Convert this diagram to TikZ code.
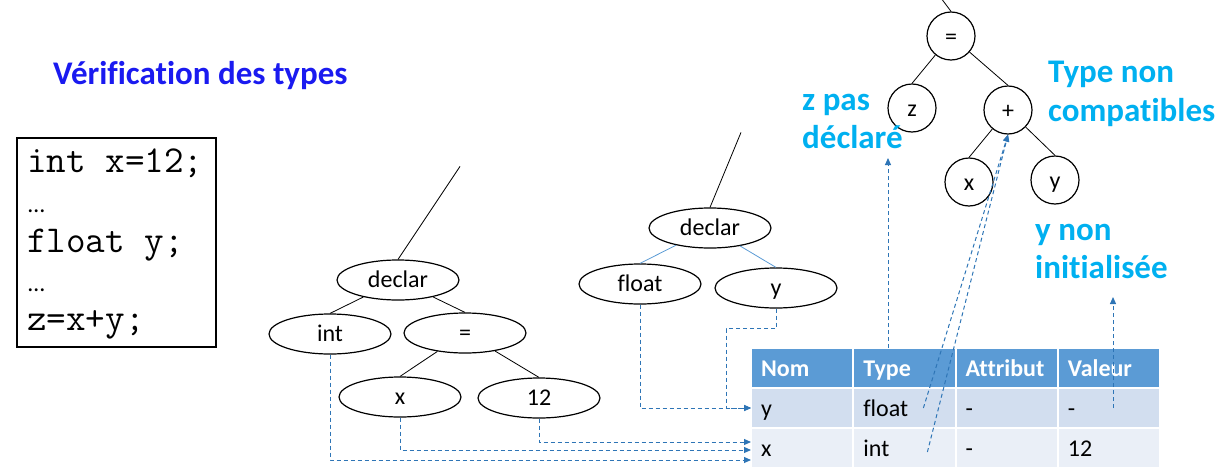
\documentclass[tikz,border=0pt]{standalone}
\usepackage{fontspec}
\setmainfont[Ligatures=NoCommon]{Carlito}
\usetikzlibrary{arrows.meta,shapes.geometric}

\definecolor{titleblue}{RGB}{26,26,240}
\definecolor{noteblue}{RGB}{0,176,240}
\definecolor{linkblue}{RGB}{46,117,182}
\definecolor{headblue}{RGB}{91,155,213}
\definecolor{rowone}{RGB}{210,222,239}
\definecolor{rowtwo}{RGB}{234,239,247}

\tikzset{
  ell/.style={draw, ellipse, line width=1.2pt, minimum width=122pt, minimum height=40pt, inner sep=0pt, text height=15pt, text depth=0pt, font=\fontsize{24}{28}\selectfont},
  circ/.style={draw, circle, line width=1.2pt, minimum size=48pt, inner sep=0pt, text height=17pt, text depth=0pt, font=\fontsize{24}{28}\selectfont},
  note/.style={text=noteblue, inner sep=0pt, anchor=base west, font=\fontsize{33}{38}\selectfont\bfseries},
  code/.style={inner sep=0pt, anchor=base west, font=\ttfamily\fontsize{38}{40}\selectfont},
  dots/.style={inner sep=0pt, anchor=base west, font=\fontsize{24}{28}\selectfont},
  link/.style={draw=linkblue, line width=1pt, dash pattern=on 4pt off 3pt, -{Triangle[length=7pt,width=6pt]}},
  cell/.style={anchor=north west, outer sep=0pt, minimum width=102.25pt, minimum height=40pt, text width=82pt, inner xsep=10pt, text height=17pt, text depth=1pt, draw=white, line width=2pt, font=\fontsize{24}{28}\selectfont},
  hcell/.style={cell, fill=headblue, text=white, font=\fontsize{24}{28}\selectfont\bfseries}
}

\begin{document}
\begin{tikzpicture}[x=1pt,y=-1pt]
  \useasboundingbox (0,0) rectangle (1223,471);

  % titre
  \node[anchor=base west, inner sep=0pt, text=titleblue, font=\fontsize{33}{38}\selectfont\bfseries] (title) at (53,84) {Vérification des types};

  % code source
  \node[draw, line width=1.2pt, minimum width=199pt, minimum height=209pt, inner sep=0pt] (codebox) at (116.5,242.5) {};
  \node[code] (l1) at (27,172) {int x=12;};
  \node[dots] (l2) at (28,212) {…};
  \node[code] (l3) at (27,252) {float y;};
  \node[dots] (l4) at (28,291) {…};
  \node[code] (l5) at (27,330) {z=x+y;};

  % arbre int x=12
  \node[ell] (declarA) at (398,280) {declar};
  \node[ell] (intN) at (330,334) {int};
  \node[ell] (eqA) at (465,333) {=};
  \node[ell] (xA) at (400,397) {x};
  \node[ell] (twelve) at (539,398) {12};
  \draw[line width=0.8pt] (declarA.north) -- ++(62,-93);
  \draw[line width=0.8pt] (declarA) -- (intN.north);
  \draw[line width=0.8pt] (declarA) -- (eqA.north);
  \draw[line width=0.8pt] (eqA) -- (xA.north);
  \draw[line width=0.8pt] (eqA) -- (twelve.north);

  % arbre float y
  \node[ell] (declarB) at (710,228) {declar};
  \node[ell] (floatN) at (640,284) {float};
  \node[ell] (yv) at (776,288) {y};
  \draw[line width=0.8pt] (declarB.north) -- ++(31,-75);
  \draw[headblue, line width=0.8pt] (declarB) -- (floatN.north);
  \draw[headblue, line width=0.8pt] (declarB) -- (yv.north);

  % arbre z=x+y
  \node[circ] (eqC) at (951,36) {=};
  \node[circ] (zc) at (912,108) {z};
  \node[circ] (plus) at (1008,110) {+};
  \node[circ] (xc) at (969,182) {x};
  \node[circ] (yc) at (1055,180) {y};
  \draw[line width=0.8pt] (eqC.north) -- ++(-9,-12);
  \draw[line width=0.8pt] (eqC) -- (zc.north);
  \draw[line width=0.8pt] (eqC) -- (plus.north);
  \draw[line width=0.8pt] (plus) -- (xc.north);
  \draw[line width=0.8pt] (plus) -- (yc.north);

  % messages
  \node[note] (zpas) at (802,110) {z pas};
  \node[note] (zdecl) at (802,148) {déclaré};
  \node[note] (tnon) at (1048,82) {Type non};
  \node[note] (tcomp) at (1048,121) {compatibles};
  \node[note] (ynon) at (1035,240) {y non};
  \node[note] (yinit) at (1035,278) {initialisée};

  % table des symboles
  \node[hcell] (hNom) at (751,348) {Nom};
  \node[hcell] (hType) at (853.25,348) {Type};
  \node[hcell] (hAttr) at (955.5,348) {Attribut};
  \node[hcell] (hVal) at (1057.75,348) {Valeur};
  \node[cell, fill=rowone] (yNom) at (751,388) {y};
  \node[cell, fill=rowone] (yType) at (853.25,388) {float};
  \node[cell, fill=rowone] (yAttr) at (955.5,388) {-};
  \node[cell, fill=rowone] (yVal) at (1057.75,388) {-};
  \node[cell, fill=rowtwo] (xNom) at (751,428) {x};
  \node[cell, fill=rowtwo] (xType) at (853.25,428) {int};
  \node[cell, fill=rowtwo] (xAttr) at (955.5,428) {-};
  \node[cell, fill=rowtwo] (xVal) at (1057.75,428) {12};

  % liens
  \draw[link] (floatN.south) |- (yNom.west);
  \draw[link] (yv.south) -- ++(0,20) -| ([xshift=-25pt]yNom.west) -- (yNom.west);
  \draw[link] (intN.south) |- ([yshift=-12pt]xNom.west);
  \draw[link] (xA.south) |- ([yshift=-2pt]xNom.west);
  \draw[link] (twelve.south) |- ([yshift=6pt]xNom.west);
  \draw[link] ([xshift=19pt]yType.center) -- (plus.south);
  \draw[link] ([xshift=23pt,yshift=-4pt]xType.center) -- (plus.south);
  \coordinate (zTip) at (888,158);
  \draw[link] (zTip |- hType.north) -- (zTip);
  \coordinate (yTip) at (1113,297);
  \draw[link] (yTip |- yVal.center) -- (yTip);
\end{tikzpicture}
\end{document}
